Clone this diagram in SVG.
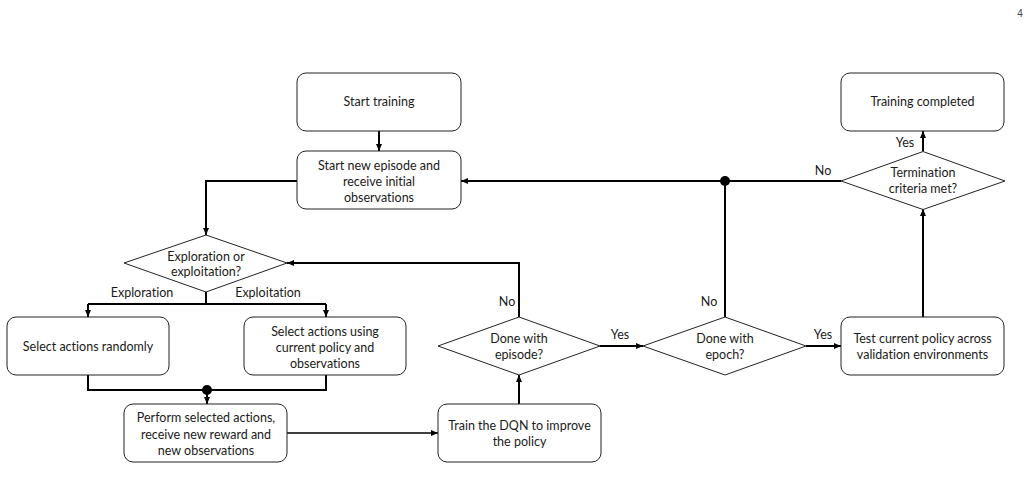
<svg xmlns="http://www.w3.org/2000/svg" width="1030" height="494" viewBox="0 0 1030 494">
<style>
.box{fill:#fff;stroke:#222;stroke-width:1}
.t{font-family:Lato,"Liberation Sans",sans-serif;font-size:12.5px;fill:#1a1a1a;text-anchor:middle;font-variant-ligatures:none;font-feature-settings:"liga" 0}
.c{fill:none;stroke:#000;stroke-width:2}
.c1{fill:none;stroke:#000;stroke-width:1.6}
</style>
<defs>
<marker id="ah" markerUnits="userSpaceOnUse" markerWidth="7" markerHeight="6" refX="7" refY="3" orient="auto">
<path d="M0,0 L7,3 L0,6 z" fill="#000"/>
</marker>
</defs>
<rect width="1030" height="494" fill="#fff"/>
<text x="1020" y="17" style="font-family:'Liberation Sans',sans-serif;font-size:10px;fill:#444" text-anchor="middle">4</text>

<g id="connectors">
<path class="c" d="M379,131 V151" marker-end="url(#ah)"/>
<path class="c" d="M297,181 H206 V235" marker-end="url(#ah)"/>
<path class="c" d="M206,292 V304 M88,304 H326"/>
<path class="c" d="M88,304 V317" marker-end="url(#ah)"/>
<path class="c" d="M326,304 V317" marker-end="url(#ah)"/>
<path class="c" d="M88,375 V390 H326 V375"/>
<circle cx="207" cy="390" r="5" fill="#000"/>
<path class="c" d="M207,390 V404" marker-end="url(#ah)"/>
<path class="c1" d="M287,433 H438" marker-end="url(#ah)"/>
<path class="c" d="M519,404 V375" marker-end="url(#ah)"/>
<path class="c" d="M519,317 V263 H287" marker-end="url(#ah)"/>
<path class="c" d="M600,346 H643" marker-end="url(#ah)"/>
<path class="c" d="M806,346 H841" marker-end="url(#ah)"/>
<path class="c" d="M725,317 V181"/>
<path class="c" d="M841,181 H461" marker-end="url(#ah)"/>
<circle cx="725" cy="181" r="5" fill="#000"/>
<path class="c" d="M923,317 V209" marker-end="url(#ah)"/>
<path class="c" d="M923,151 V131" marker-end="url(#ah)"/>
</g>

<g id="labels">
<text class="t" x="142" y="297">Exploration</text>
<text class="t" x="268" y="297">Exploitation</text>
<text class="t" x="507" y="306">No</text>
<text class="t" x="620" y="339">Yes</text>
<text class="t" x="709" y="306">No</text>
<text class="t" x="823" y="339">Yes</text>
<text class="t" x="823" y="175">No</text>
<text class="t" x="905" y="147">Yes</text>
</g>

<g id="start">
<rect class="box" x="297" y="73" width="164" height="58" rx="9"/>
<text class="t" x="379" y="106">Start training</text>
</g>
<g id="episode">
<rect class="box" x="297" y="151" width="164" height="58" rx="9"/>
<text class="t" x="379" y="169.5">Start new episode and</text>
<text class="t" x="379" y="185.5">receive initial</text>
<text class="t" x="379" y="202">observations</text>
</g>
<g id="completed">
<rect class="box" x="841" y="73" width="163" height="58" rx="9"/>
<text class="t" x="922.5" y="106">Training completed</text>
</g>
<g id="termination">
<polygon class="box" points="841,181 923,151.5 1005,181 923,209.5"/>
<text class="t" x="923" y="177">Termination</text>
<text class="t" x="923" y="193">criteria met?</text>
</g>
<g id="explore">
<polygon class="box" points="124,263 206,235 287,263 206,292"/>
<text class="t" x="206" y="261">Exploration or</text>
<text class="t" x="206" y="276">exploitation?</text>
</g>
<g id="random">
<rect class="box" x="7" y="317" width="162" height="58" rx="9"/>
<text class="t" x="88" y="351">Select actions randomly</text>
</g>
<g id="policy">
<rect class="box" x="244" y="317" width="162" height="58" rx="9"/>
<text class="t" x="325" y="336">Select actions using</text>
<text class="t" x="325" y="352">current policy and</text>
<text class="t" x="325" y="368">observations</text>
</g>
<g id="perform">
<rect class="box" x="124" y="404" width="163" height="58" rx="9"/>
<text class="t" x="206" y="422">Perform selected actions,</text>
<text class="t" x="206" y="438.5">receive new reward and</text>
<text class="t" x="206" y="455">new observations</text>
</g>
<g id="train">
<rect class="box" x="438" y="404" width="163" height="58" rx="9"/>
<text class="t" x="519.5" y="430">Train the DQN to improve</text>
<text class="t" x="519.5" y="446">the policy</text>
</g>
<g id="episodeDone">
<polygon class="box" points="438,346 519,317 600,346 519,375"/>
<text class="t" x="519" y="343">Done with</text>
<text class="t" x="519" y="359">episode?</text>
</g>
<g id="epochDone">
<polygon class="box" points="643,346 725,317 806,346 725,375"/>
<text class="t" x="725" y="343">Done with</text>
<text class="t" x="725" y="359">epoch?</text>
</g>
<g id="test">
<rect class="box" x="841" y="317" width="163" height="58" rx="9"/>
<text class="t" x="922.5" y="343">Test current policy across</text>
<text class="t" x="922.5" y="359">validation environments</text>
</g>
</svg>
